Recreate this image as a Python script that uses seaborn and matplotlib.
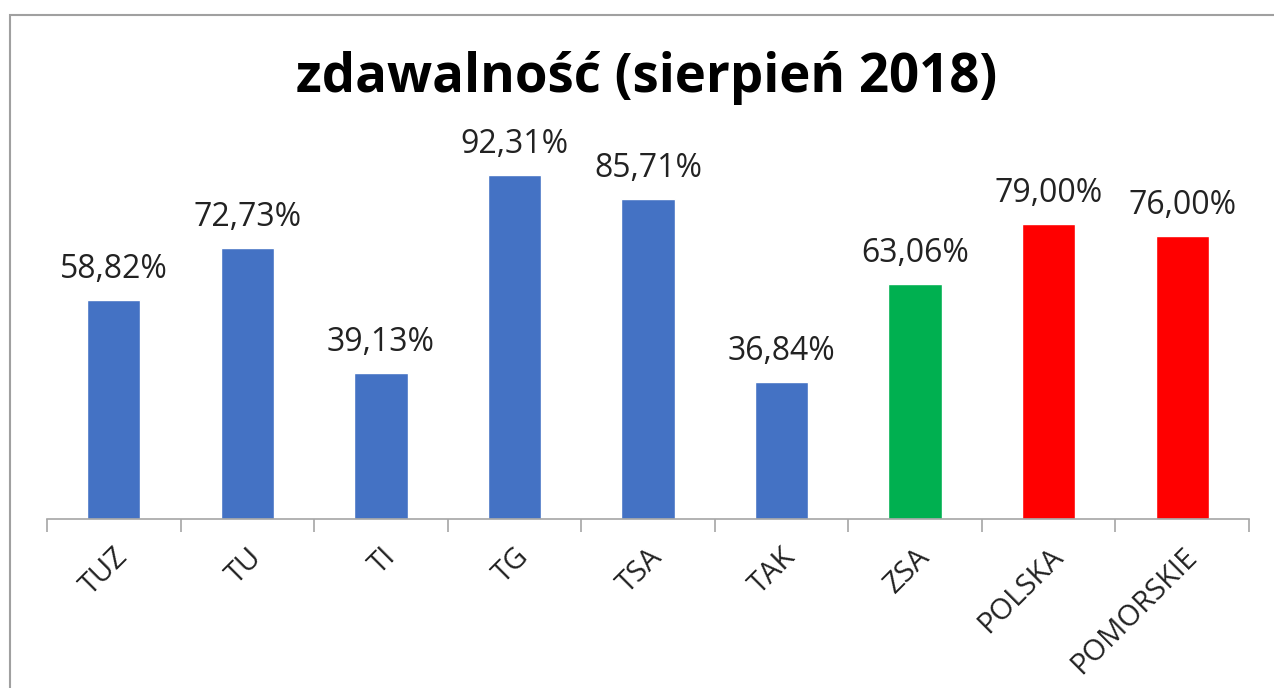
import matplotlib
matplotlib.use("Agg")
import matplotlib.pyplot as plt
import seaborn as sns
import pandas as pd
from matplotlib.patches import Rectangle

categories = ["TUZ", "TU", "TI", "TG", "TSA", "TAK", "ZSA", "POLSKA", "POMORSKIE"]
values = [58.82, 72.73, 39.13, 92.31, 85.71, 36.84, 63.06, 79.00, 76.00]
colors = ["#4472C4"] * 6 + ["#00B050", "#FF0000", "#FF0000"]
title = "zdawalność (sierpień 2018)"

sns.set_theme(style="white")
plt.rcParams['font.family'] = ['Open Sans', 'DejaVu Sans']
plt.rcParams['xtick.bottom'] = True

df = pd.DataFrame({"cat": categories, "val": values})

fig = plt.figure(figsize=(12.74, 6.88), dpi=100)
ax = fig.add_axes([47/1274, (688-519)/688, (1249-47)/1274, (519-146)/688])

sns.barplot(data=df, x="cat", y="val", hue="cat", palette=colors, legend=False,
            width=0.4, saturation=1, ax=ax)

ax.set_ylim(0, 100)
ax.set_xlim(-0.5, len(categories) - 0.5)
for s in ["left", "right", "top"]:
    ax.spines[s].set_visible(False)
ax.spines["bottom"].set_color("#A6A6A6")
ax.spines["bottom"].set_linewidth(1.2)
ax.set_yticks([])
ax.set_xlabel("")
ax.set_ylabel("")

ax.set_xticks(range(len(categories)))
ax.set_xticklabels(categories, rotation=45, ha="right", rotation_mode="anchor",
                   fontsize=21, color="#222222")
ax.tick_params(axis="x", which="major", length=0, pad=17)
ax.set_xticks([i - 0.5 for i in range(len(categories) + 1)], minor=True)
ax.tick_params(axis="x", which="minor", bottom=True, length=9, width=1.2,
               color="#A6A6A6", direction="out")

for i, v in enumerate(values):
    ax.annotate(f"{v:.2f}%".replace(".", ","), (i, v), xytext=(0, 10),
                textcoords="offset points", ha="center", va="bottom",
                fontsize=23, color="#222222")

fig.text(647/1274, 1 - 78/688, title, ha="center", va="center",
         fontsize=38, fontweight="bold", color="black")

fig.patches.append(Rectangle((10/1274, -0.1), 1.2, 1 - 14.5/688 + 0.1,
                             transform=fig.transFigure, fill=False,
                             edgecolor="#A0A0A0", linewidth=1.5, zorder=0))

fig.savefig("out.png", dpi=100)
